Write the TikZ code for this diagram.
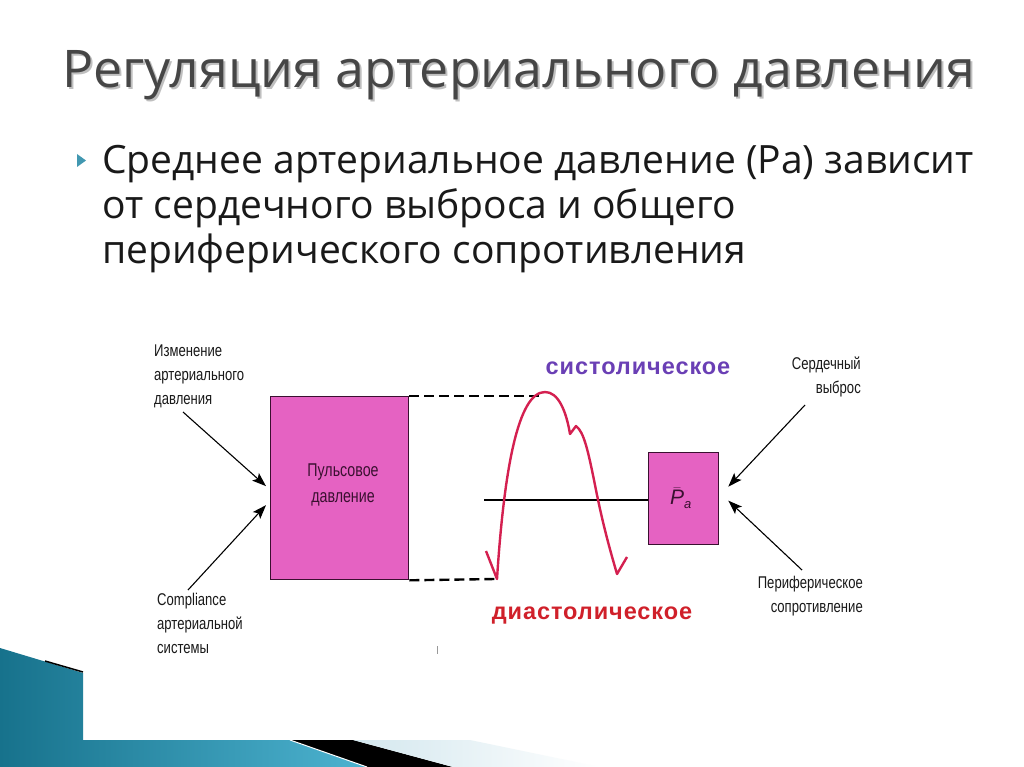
\documentclass[tikz,border=0pt]{standalone}
\usepackage{fontspec}
\setmainfont{Open Sans}
\newfontfamily\narrow[FakeStretch=0.77]{Liberation Sans}
\newfontfamily\arialf{Liberation Sans}
\newfontfamily\arialsp[LetterSpace=4]{Liberation Sans}
\usetikzlibrary{arrows.meta,shadings}
\definecolor{pinkbox}{HTML}{E562C2}
\definecolor{boxline}{HTML}{3A1030}
\definecolor{wave}{HTML}{D42050}
\definecolor{sysc}{HTML}{6A3FB5}
\definecolor{diac}{HTML}{D0202A}
\definecolor{tealA}{HTML}{17728C}
\definecolor{tealB}{HTML}{4DB3D0}
\definecolor{paleblue}{HTML}{D3E7EE}
\definecolor{titlegray}{HTML}{464646}
\tikzset{
  lbl/.style={inner sep=0pt, font=\narrow\fontsize{17}{24}\selectfont, text=black!90},
  pbox/.style={draw=boxline, line width=1.3pt, fill=pinkbox, inner sep=0pt},
  dash line/.style={line width=2.4pt, dash pattern=on 10pt off 5pt},
  inarrow/.style={line width=1.1pt, -{Stealth[length=14pt,width=10pt,inset=3pt]}},
}
\begin{document}
\begin{tikzpicture}[x=1pt,y=-1pt]
\useasboundingbox (0,0) rectangle (1024,767);
\fill[white] (0,0) rectangle (1024,767);
% bottom decoration
\shade[left color=tealA, right color=tealB] (0,648) -- (83,673) -- (83,740) -- (290,740) -- (367,767) -- (0,767) -- cycle;
\draw[black, line width=1.5pt] (45,661) -- (83,672);
\fill[black] (290,740) -- (353,740) -- (453,767) -- (367,767) -- cycle;
\draw[white, line width=1pt] (290,740) -- (367,767);
\shade[left color=paleblue, right color=white] (353,740) -- (470,740) -- (600,767) -- (453,767) -- cycle;
% title
\node[anchor=base west, inner sep=0pt, text=black!25, font=\fontsize{51.9}{60}\selectfont] at (64,90) {Регуляция артериального давления};
\node (title) [anchor=base west, inner sep=0pt, text=titlegray, font=\fontsize{51.9}{60}\selectfont] at (62,88) {Регуляция артериального давления};
% bullet
\fill[tealB!85!black] (77,154) -- (86,160.5) -- (77,167) -- cycle;
\node (body) [anchor=north west, inner sep=0pt, align=left, text=black!90, font=\fontsize{39}{45}\selectfont] at (102,145) {Среднее артериальное давление (Ра) зависит\\от сердечного выброса и общего\\периферического сопротивления};
% diagram
\node (pp) [pbox, minimum width=138pt, minimum height=183pt, anchor=north west] at (270,396) {};
\node (ppt) [inner sep=0pt, align=center, text=boxline, font=\narrow\fontsize{18.5}{26}\selectfont] at (343,485) {Пульсовое\\давление};
\node (pa) [pbox, minimum width=70pt, minimum height=92pt, anchor=north west] at (648,452) {};
\node (pat) [inner sep=0pt, text=boxline, font=\arialf\fontsize{21}{24}\selectfont] at (681,498) {$\bar{\hbox{\arialf\itshape P}}_{\hbox{\arialf\itshape\fontsize{13}{14}\selectfont a}}$};
% dashed
\coordinate (topend) at (541,396);
\coordinate (botend) at (495,579);
\draw[dash line] (pp.north east) -- (topend);
\draw[dash line] (pp.south east) -- (botend);
% mean line
\coordinate (ml) at (484,500);
\draw[line width=1.9pt] (ml) -- (pa.west |- ml);
% wave
\draw[wave, line width=2.4pt, line join=round] (486,551) -- (497,579) .. controls (504,470) and (518,392) .. (545,392) .. controls (558,392) and (566,410) .. (570,434) -- (576,426) .. controls (584,432) and (588,450) .. (596,490) .. controls (603,525) and (610,550) .. (617,574) -- (627,557);
% labels
\node (izm) [lbl, align=left, anchor=north west] at (154,345) {Изменение\\артериального\\давления};
\node (comp) [lbl, align=left, anchor=north west] at (157,593) {Compliance\\артериальной\\системы};
\node (sv) [lbl, align=right, anchor=north east] at (861,357) {Сердечный\\выброс};
\node (pr) [lbl, align=right, anchor=north east] at (863,576) {Периферическое\\сопротивление};
\node (sys) [inner sep=0pt, text=sysc, font=\arialsp\bfseries\fontsize{23.5}{26}\selectfont] at (638,368) {систолическое};
\node (dia) [inner sep=0pt, text=diac, font=\arialsp\bfseries\fontsize{23.5}{26}\selectfont] at (592,616) {диастолическое};
% arrows
\coordinate (a1) at (183,412);
\coordinate (a2) at (188,590);
\coordinate (a3) at (805,405);
\coordinate (a4) at (802,570);
\draw[inarrow] (a1) -- ([xshift=-4pt,yshift=2pt]pp.west);
\draw[inarrow] (a2) -- ([xshift=-4pt,yshift=-17pt]pp.west);
\draw[inarrow] (a3) -- ([xshift=9pt,yshift=12pt]pa.east);
\draw[inarrow] (a4) -- ([xshift=9pt,yshift=-2pt]pa.east);
\fill[black!40] (436.5,646) rectangle (437.5,654);
\end{tikzpicture}
\end{document}
